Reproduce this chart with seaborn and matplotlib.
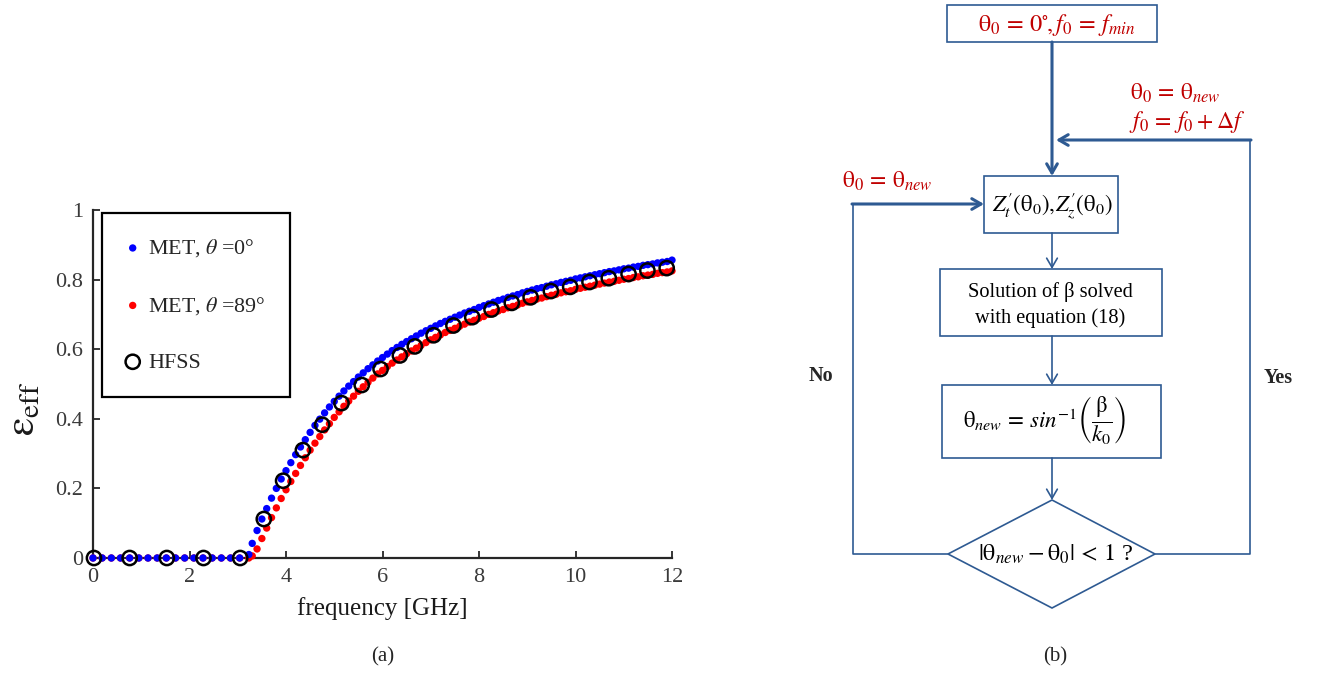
import numpy as np
import pandas as pd
import matplotlib
matplotlib.use("Agg")
import matplotlib.pyplot as plt
import seaborn as sns
from matplotlib.patches import Rectangle, Polygon

# ---------------- data ----------------
freq_low = [0.00, 0.19, 0.38, 0.57, 0.76, 0.95, 1.14, 1.33, 1.52, 1.71,
            1.90, 2.09, 2.28, 2.47, 2.66, 2.85, 3.04, 3.23]
met0_low = [0, 0, 0, 0, 0, 0, 0, 0, 0, 0,
            0, 0, 0, 0, 0, 0, 0, 0.010]
met89_low = [0, 0, 0, 0, 0, 0, 0, 0, 0, 0,
             0, 0, 0, 0, 0, 0, 0, 0.0]

freq_high = [3.3, 3.4, 3.5, 3.6, 3.7, 3.8, 3.9, 4.0, 4.1, 4.2,
             4.3, 4.4, 4.5, 4.6, 4.7, 4.8, 4.9, 5.0, 5.1, 5.2,
             5.3, 5.4, 5.5, 5.6, 5.7, 5.8, 5.9, 6.0, 6.1, 6.2,
             6.3, 6.4, 6.5, 6.6, 6.7, 6.8, 6.9, 7.0, 7.1, 7.2,
             7.3, 7.4, 7.5, 7.6, 7.7, 7.8, 7.9, 8.0, 8.1, 8.2,
             8.3, 8.4, 8.5, 8.6, 8.7, 8.8, 8.9, 9.0, 9.1, 9.2,
             9.3, 9.4, 9.5, 9.6, 9.7, 9.8, 9.9, 10.0, 10.1, 10.2,
             10.3, 10.4, 10.5, 10.6, 10.7, 10.8, 10.9, 11.0, 11.1, 11.2,
             11.3, 11.4, 11.5, 11.6, 11.7, 11.8, 11.9, 12.0]
met0_high = [0.042, 0.079, 0.112, 0.142, 0.172, 0.200, 0.227, 0.251, 0.274, 0.297,
             0.319, 0.340, 0.361, 0.381, 0.399, 0.417, 0.434, 0.450, 0.465, 0.480,
             0.494, 0.507, 0.520, 0.532, 0.544, 0.555, 0.566, 0.576, 0.586, 0.596,
             0.605, 0.614, 0.622, 0.630, 0.638, 0.646, 0.653, 0.660, 0.667, 0.674,
             0.680, 0.686, 0.692, 0.698, 0.704, 0.709, 0.714, 0.720, 0.725, 0.730,
             0.735, 0.740, 0.744, 0.749, 0.753, 0.757, 0.762, 0.766, 0.770, 0.774,
             0.777, 0.781, 0.785, 0.788, 0.792, 0.795, 0.798, 0.802, 0.805, 0.808,
             0.811, 0.814, 0.817, 0.820, 0.823, 0.825, 0.828, 0.831, 0.833, 0.836,
             0.838, 0.841, 0.843, 0.845, 0.848, 0.850, 0.852, 0.856]
met89_high = [0.006, 0.026, 0.056, 0.086, 0.116, 0.144, 0.171, 0.196, 0.220, 0.243,
              0.266, 0.288, 0.310, 0.330, 0.349, 0.368, 0.386, 0.404, 0.420, 0.436,
              0.451, 0.465, 0.479, 0.492, 0.505, 0.517, 0.529, 0.539, 0.550, 0.560,
              0.569, 0.578, 0.587, 0.595, 0.603, 0.611, 0.619, 0.627, 0.634, 0.641,
              0.648, 0.654, 0.660, 0.666, 0.672, 0.678, 0.683, 0.689, 0.694, 0.700,
              0.705, 0.710, 0.714, 0.719, 0.723, 0.727, 0.732, 0.736, 0.740, 0.744,
              0.747, 0.751, 0.755, 0.758, 0.762, 0.765, 0.768, 0.772, 0.775, 0.778,
              0.781, 0.784, 0.787, 0.790, 0.793, 0.795, 0.798, 0.801, 0.803, 0.806,
              0.808, 0.811, 0.813, 0.815, 0.818, 0.820, 0.822, 0.825]

hfss_freq = [0.02, 0.76, 1.53, 2.29, 3.05, 3.54, 3.94, 4.35, 4.75, 5.15,
             5.57, 5.96, 6.36, 6.67, 7.06, 7.47, 7.86, 8.26, 8.68, 9.07,
             9.49, 9.89, 10.29, 10.69, 11.10, 11.49, 11.89]
hfss_eps = [0, 0, 0, 0, 0, 0.112, 0.222, 0.310, 0.383, 0.445,
            0.497, 0.543, 0.582, 0.608, 0.640, 0.668, 0.692, 0.714, 0.733, 0.749,
            0.767, 0.779, 0.793, 0.804, 0.816, 0.826, 0.833]

x_ticks = [0, 2, 4, 6, 8, 10, 12]
x_ticklabels = ["0", "2", "4", "6", "8", "10", "12"]
y_ticks = [0, 0.2, 0.4, 0.6, 0.8, 1]
y_ticklabels = ["0", "0.2", "0.4", "0.6", "0.8", "1"]
series_labels = [r"MET, $\theta$ =0°", r"MET, $\theta$ =89°", "HFSS"]

# ---------------- style ----------------
sns.set_style("ticks")
plt.rcParams["font.family"] = ["Liberation Serif", "DejaVu Serif"]
plt.rcParams["mathtext.fontset"] = "stix"

W, H = 1326, 677
fig = plt.figure(figsize=(W / 100, H / 100), dpi=100)
fig.patch.set_facecolor("white")

ax = fig.add_axes([93 / W, 1 - 558 / H, 579 / W, 348 / H])
ax.set_facecolor("white")

df0 = pd.DataFrame({"f": freq_low + freq_high, "eps": met0_low + met0_high})
df89 = pd.DataFrame({"f": freq_low + freq_high, "eps": met89_low + met89_high})
dfh = pd.DataFrame({"f": hfss_freq, "eps": hfss_eps})

sns.scatterplot(data=df89, x="f", y="eps", ax=ax, color="#FF0000", s=28,
                edgecolor="none", linewidth=0, clip_on=False, zorder=3)
h_red = ax.collections[-1]
sns.scatterplot(data=df0, x="f", y="eps", ax=ax, color="#0000FF", s=28,
                edgecolor="none", linewidth=0, clip_on=False, zorder=4)
h_blue = ax.collections[-1]
sns.scatterplot(data=dfh, x="f", y="eps", ax=ax, marker="o", s=105,
                facecolor="none", edgecolor="black", linewidth=1.8,
                clip_on=False, zorder=5)
h_hfss = ax.collections[-1]

ax.set_xlim(0, 12)
ax.set_ylim(0, 1)
ax.set_xticks(x_ticks, x_ticklabels)
ax.set_yticks(y_ticks, y_ticklabels)
for s in ["top", "right"]:
    ax.spines[s].set_visible(False)
for s in ["left", "bottom"]:
    ax.spines[s].set_linewidth(1.6)
    ax.spines[s].set_color("#262626")
ax.tick_params(direction="in", length=5, width=1.3, colors="#262626",
               labelsize=16, pad=7, labelcolor="#3a3a3a")

ax.set_xlabel("frequency [GHz]", fontsize=18, color="#1a1a1a")
ax.xaxis.set_label_coords(0.5, -0.112)
ax.set_ylabel(r"$\mathrm{\varepsilon}_{\mathrm{eff}}$", fontsize=30, color="#1a1a1a")
ax.yaxis.set_label_coords(-0.085, 0.43)

leg = ax.legend(handles=[h_blue, h_red, h_hfss], labels=series_labels,
                loc="upper left", bbox_to_anchor=(0.0155, 0.991),
                borderaxespad=0, frameon=True, fancybox=False,
                edgecolor="black", framealpha=1, fontsize=15.8,
                borderpad=1.1, labelspacing=1.62, handlelength=0.6,
                handletextpad=0.42, scatterpoints=1)
leg.get_frame().set_linewidth(1.6)

# ---------------- flowchart (b) ----------------
fa = fig.add_axes([0, 0, 1, 1])
fa.set_xlim(0, W)
fa.set_ylim(H, 0)
fa.axis("off")
fa.patch.set_alpha(0)

BLUE = "#2E5A92"
RED = "#C00000"
THIN = 1.2
THICK = 2.2

boxes = [(947, 5, 210, 37), (984, 176, 134, 57), (940, 269, 222, 67), (942, 385, 219, 73)]
for (x0, y0, w, h) in boxes:
    fa.add_patch(Rectangle((x0, y0), w, h, fill=True, facecolor="white",
                           edgecolor=BLUE, lw=THIN))
fa.add_patch(Polygon([(1052, 500), (1155, 554), (1052, 608), (948, 554)],
                     closed=True, facecolor="white", edgecolor=BLUE, lw=THIN))

def arrow(p0, p1, lw):
    fa.annotate("", xy=p1, xytext=p0,
                arrowprops=dict(arrowstyle="->,head_length=0.55,head_width=0.32",
                                lw=lw, color=BLUE, shrinkA=0, shrinkB=0,
                                mutation_scale=12))

arrow((1052, 42), (1052, 176), THICK)
arrow((1052, 233), (1052, 269), THIN)
arrow((1052, 336), (1052, 385), THIN)
arrow((1052, 458), (1052, 500), THIN)
fa.plot([948, 853, 853], [554, 554, 204], color=BLUE, lw=THIN)
arrow((852, 204), (984, 204), THICK)
fa.plot([1155, 1250, 1250], [554, 554, 140], color=BLUE, lw=THIN)
arrow((1251, 140), (1056, 140), THICK)

fa.text(1057, 25, r"$\mathrm{\theta}_0\,=\,0^{\circ}\!,f_0\,=\,f_{min}$", color=RED,
        fontsize=17.5, ha="center", va="center")
fa.text(1052, 206, r"$Z^{\prime}_{t}(\mathrm{\theta}_0),\!Z^{\prime}_{z}(\mathrm{\theta}_0)$",
        color="black", fontsize=16.5, ha="center", va="center")
fa.text(1050, 305, "Solution of β solved\nwith equation (18)", color="black",
        fontsize=14.7, ha="center", va="center", linespacing=1.45)
fa.text(1044, 421, r"$\mathrm{\theta}_{new}\,=\,sin^{-1}\left(\dfrac{\mathrm{\beta}}{k_0}\right)$",
        color="black", fontsize=16.5, ha="center", va="center")
fa.text(1056, 554, r"$|\mathrm{\theta}_{new}-\mathrm{\theta}_0|\,<\,1$ ?", color="black",
        fontsize=17.5, ha="center", va="center")
fa.text(887, 181, r"$\mathrm{\theta}_0\,=\,\mathrm{\theta}_{new}$", color=RED,
        fontsize=17, ha="center", va="center")
fa.text(1175, 93, r"$\mathrm{\theta}_0\,=\,\mathrm{\theta}_{new}$", color=RED,
        fontsize=17, ha="center", va="center")
fa.text(1187, 122, r"$f_0\,=\,f_0+\Delta f$", color=RED,
        fontsize=17, ha="center", va="center")
fa.text(821, 376, "No", fontsize=14.5, fontweight="bold", ha="center", va="center")
fa.text(1278, 378, "Yes", fontsize=14.5, fontweight="bold", ha="center", va="center")

fa.text(383, 657, "(a)", fontsize=15, ha="center", va="center")
fa.text(1055, 657, "(b)", fontsize=15, ha="center", va="center")

fig.savefig("out.png", dpi=100, facecolor="white")
